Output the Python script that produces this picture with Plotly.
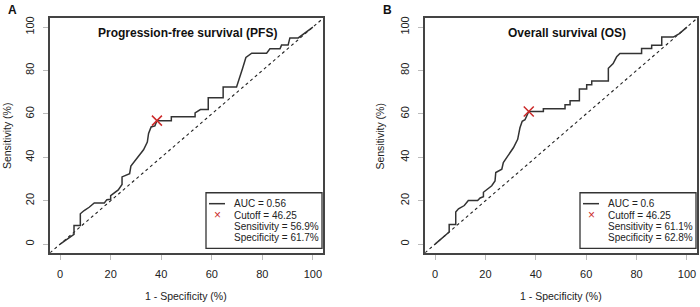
import plotly.graph_objects as go

# ---- data ----
pfs_fpr = [0, 5.5, 5.5, 8, 8, 9.5, 11.5, 13.5, 17.5, 18.5, 20, 20, 23, 24.5, 24.5, 27.5, 28, 30, 33, 34.5,
           35, 36, 37.5, 38.3, 44, 44, 53.4, 53.4, 55.5, 58.6, 58.6, 64.5, 64.5, 69.8, 70.9, 71.5, 72.2,
           73.5, 75.8, 81.7, 83, 87, 87.6, 90.2, 90.5, 90.9, 94.2, 100]
pfs_tpr = [0, 4.5, 8.6, 8.6, 14, 15.5, 17, 19, 19, 20.5, 20.7, 22.4, 25, 27.5, 31, 32.5, 36, 39, 43.5, 47,
           51, 54, 54.5, 56.9, 56.9, 58.7, 58.7, 60.5, 62, 62, 67.5, 67.5, 72.4, 72.4, 76, 78.3, 81,
           86, 88, 88, 90, 90, 91.7, 91.7, 93.5, 95, 95, 100]
os_fpr = [0, 5.6, 5.6, 8.2, 8.2, 9.3, 11.6, 13.2, 16.9, 17.9, 19.2, 19.2, 22.5, 23.8, 24.1, 26.5, 27.1,
          31.1, 32.8, 33.7, 34.6, 35.7, 37.2, 43, 43, 51.6, 51.6, 53.6, 53.6, 57.3, 57.3, 60.2, 60.2,
          62.2, 62.2, 68.8, 68.8, 70.7, 72.1, 73.4, 82, 82, 86, 86, 90, 90, 94.6, 97, 100]
os_tpr = [0, 5.6, 9.1, 9.1, 14.8, 16.3, 17.8, 20.1, 20.1, 21.3, 21.9, 23.9, 26.9, 29.1, 33, 34.5, 37.6,
          44.4, 48.3, 53.6, 56.6, 57.3, 61.1, 61.1, 62.4, 62.4, 64.2, 64.2, 66.1, 66.1, 71.5, 71.5, 73.4,
          73.4, 75.2, 75.2, 81, 83.2, 86.3, 87.8, 87.8, 90.1, 90.1, 91.6, 91.6, 95.4, 95.4, 97, 100]

cutoffs = [46.25, 46.25]
cut_fpr = [38.3, 37.2]
cut_tpr = [56.9, 61.1]
aucs = ["0.56", "0.6"]
sens_txt = ["56.9%", "61.1%"]
spec_txt = ["61.7%", "62.8%"]
titles = ["Progression-free survival (PFS)", "Overall survival (OS)"]
panel_letters = ["A", "B"]
tick_vals = [0, 20, 40, 60, 80, 100]
diag = [-4, 104]

W, H = 700, 307
def px(x): return x / W
def py(y): return 1 - y / H

FONT = "Liberation Sans, Arial, sans-serif"
CURVE = "#333333"
RED = "#cc2b2b"

fig = go.Figure()
series = [(pfs_fpr, pfs_tpr), (os_fpr, os_tpr)]
for i, (fx, fy) in enumerate(series):
    xa = "x" if i == 0 else "x2"
    ya = "y" if i == 0 else "y2"
    fig.add_trace(go.Scatter(x=diag, y=diag, mode="lines", xaxis=xa, yaxis=ya,
                             line=dict(color="#222", width=1.1, dash="3px,3px"), showlegend=False))
    fig.add_trace(go.Scatter(x=fx, y=fy, mode="lines", xaxis=xa, yaxis=ya,
                             line=dict(color=CURVE, width=1.5), showlegend=False))
    fig.add_trace(go.Scatter(x=[cut_fpr[i]], y=[cut_tpr[i]], mode="markers", xaxis=xa, yaxis=ya,
                             marker=dict(symbol="x-thin", size=10, line=dict(color=RED, width=1.5)),
                             showlegend=False))

# panel geometry (pixels)
panels = [dict(l=50, r=323, t=16.5, b=252.5), dict(l=425, r=697, t=16.5, b=252.5)]
axis_common = dict(range=[-4, 104], tickvals=tick_vals, showgrid=False, zeroline=False,
                   showline=True, mirror=True, linecolor="#444", linewidth=1.5,
                   ticks="outside", ticklen=5, tickcolor="#bbbbbb", tickwidth=1,
                   tickfont=dict(family=FONT, size=11, color="#222"), ticklabelstandoff=5)
layout = dict(width=W, height=H, margin=dict(l=0, r=0, t=0, b=0), autosize=False,
              plot_bgcolor="white", paper_bgcolor="white", showlegend=False)
for i, p in enumerate(panels):
    sx = "" if i == 0 else "2"
    layout["xaxis" + sx] = dict(axis_common, domain=[px(p["l"]), px(p["r"])],
                                anchor="y" + sx)
    layout["yaxis" + sx] = dict(axis_common, domain=[py(p["b"]), py(p["t"])],
                                anchor="x" + sx, tickangle=-90)
fig.update_layout(**layout)

ann = []
shapes = []
ytitle_x = [6.5, 380]
letter_x = [12, 387]
title_x = [187, 567]
for i, p in enumerate(panels):
    cx = (p["l"] + p["r"]) / 2
    base = dict(xref="paper", yref="paper", showarrow=False, xanchor="center", yanchor="middle")
    ann.append(dict(base, x=px(letter_x[i]), y=py(8), text="<b>%s</b>" % panel_letters[i],
                    font=dict(family=FONT, size=12, color="#111")))
    ann.append(dict(base, x=px(title_x[i]), y=py(31), text="<b>%s</b>" % titles[i],
                    font=dict(family=FONT, size=12, color="#111")))
    ann.append(dict(base, x=px(cx), y=py(296), text="1 - Specificity (%)",
                    font=dict(family=FONT, size=10.5, color="#222")))
    ann.append(dict(base, x=px(ytitle_x[i]), y=py((p["t"] + p["b"]) / 2), text="Sensitivity (%)",
                    textangle=-90, font=dict(family=FONT, size=10.5, color="#222")))
    # legend box
    lx0 = p["r"] - 117
    lx1 = p["r"] - 1
    ly0, ly1 = 192, 248
    shapes.append(dict(type="rect", xref="paper", yref="paper",
                       x0=px(lx0), x1=px(lx1), y0=py(ly1), y1=py(ly0),
                       line=dict(color="#333", width=1.3), fillcolor="white", layer="above"))
    shapes.append(dict(type="line", xref="paper", yref="paper",
                       x0=px(lx0 + 3), x1=px(lx0 + 19), y0=py(203), y1=py(203),
                       line=dict(color=CURVE, width=1.5), layer="above"))
    ann.append(dict(base, x=px(lx0 + 11), y=py(214.5), text="×",
                    font=dict(family=FONT, size=12, color=RED)))
    lines = ["AUC = %s" % aucs[i], "Cutoff = %.2f" % cutoffs[i],
             "Sensitivity = %s" % sens_txt[i], "Specificity = %s" % spec_txt[i]]
    for k, t in enumerate(lines):
        ann.append(dict(base, x=px(lx0 + 26), y=py(203 + 11.5 * k), text=t, xanchor="left",
                        font=dict(family=FONT, size=10, color="#222")))
fig.update_layout(annotations=ann, shapes=shapes)

fig.write_html("out.html", config={"displayModeBar": False},
               post_script="document.body.style.margin='0';")
